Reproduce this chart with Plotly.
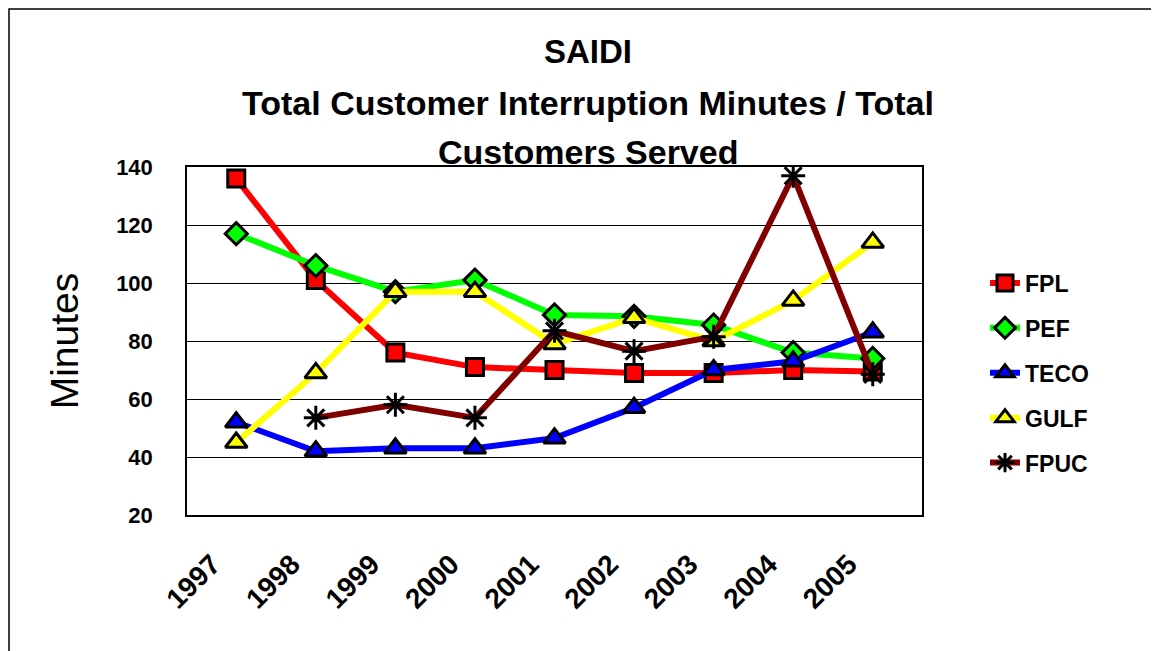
import plotly.graph_objects as go

years = ["1997", "1998", "1999", "2000", "2001", "2002", "2003", "2004", "2005"]
fpl = [136, 101, 76, 71, 70, 69, 69, 70, 69.5]
pef = [117, 106, 97, 101, 89, 88.5, 85.5, 76, 74]
teco = [52, 42, 43, 43, 46.5, 57, 70, 73, 83]
gulf = [45, 69, 97, 97, 79, 88, 80, 94, 114]
fpuc = [None, 53.5, 58, 53.5, 83.5, 76.5, 81.5, 137, 68.5]

title_lines = ["SAIDI", "Total Customer Interruption Minutes / Total", "Customers Served"]

series = [
    ("FPL", fpl, "#ff0000", "#ff0000", "square", 17),
    ("PEF", pef, "#00ff00", "#00ff00", "diamond", 17),
    ("TECO", teco, "#0000ff", "#0000ff", "triangle-up", 19),
    ("GULF", gulf, "#ffff00", "#ffff00", "triangle-up", 19),
    ("FPUC", fpuc, "#800000", "black", "asterisk-open", 20),
]

fig = go.Figure()
for name, vals, color, mcolor, sym, size in series:
    fig.add_trace(go.Scatter(
        x=years, y=vals, name=name, mode="lines+markers",
        legendgroup=name,
        line=dict(color=color, width=6),
        marker=dict(symbol=sym, size=size, color=mcolor,
                    line=dict(color="black", width=3)),
        connectgaps=False,
    ))

# page has an 8px body margin; work in screenshot pixels
OFF = 8
FW, FH = 1151, 643
PL, PR, PT, PB = 187, 922, 167, 515  # plot area in screenshot px
L, R, T, B = PL - OFF, FW - (PR - OFF), PT - OFF, FH - (PB - OFF)
W, H = PR - PL, PB - PT


def px_x(p):
    return (p - PL) / W


def px_y(p):
    return (PB - p) / H


annotations = []
for txt, yc, sz in zip(title_lines, [51, 103, 152], [33, 34, 34]):
    annotations.append(dict(
        text="<b>" + txt + "</b>", xref="paper", yref="paper",
        x=px_x(588), y=px_y(yc), xanchor="center", yanchor="middle",
        showarrow=False, font=dict(size=sz, family="Liberation Sans", color="black"),
    ))

fig.update_layout(
    width=FW, height=FH,
    margin=dict(l=L, r=R, t=T, b=B),
    paper_bgcolor="white", plot_bgcolor="white",
    font=dict(family="Liberation Sans", color="black"),
    annotations=annotations,
    showlegend=True,
    legend=dict(
        x=px_x(985), xanchor="left", y=px_y(373), yanchor="middle",
        font=dict(size=23, family="Liberation Sans", color="black", weight="bold"),
        tracegroupgap=12, bgcolor="rgba(0,0,0,0)",
    ),
    shapes=[dict(type="rect", xref="paper", yref="paper",
                 x0=px_x(OFF + 1), x1=px_x(1175), y0=px_y(OFF + 1), y1=px_y(680),
                 line=dict(color="black", width=1.5), fillcolor="rgba(0,0,0,0)",
                 layer="below")],
)

fig.update_xaxes(
    type="category", showgrid=False, showline=True, linecolor="black", linewidth=1.5,
    mirror=True, ticks="", tickangle=-45, ticklabelstandoff=20, ticklabelshift=-24,
    tickfont=dict(size=28, family="Liberation Sans", color="black", weight="bold"),
)
fig.update_yaxes(
    range=[20, 140], dtick=20, showgrid=True, gridcolor="black", gridwidth=1,
    showline=True, linecolor="black", linewidth=1.5, mirror=True, ticks="",
    zeroline=False, ticklabelstandoff=28,
    tickfont=dict(size=22, family="Liberation Sans", color="black", weight="bold"),
    title=dict(text="Minutes", font=dict(size=39, family="Liberation Sans", color="black"),
               standoff=25),
)

fig.write_html("out.html")
